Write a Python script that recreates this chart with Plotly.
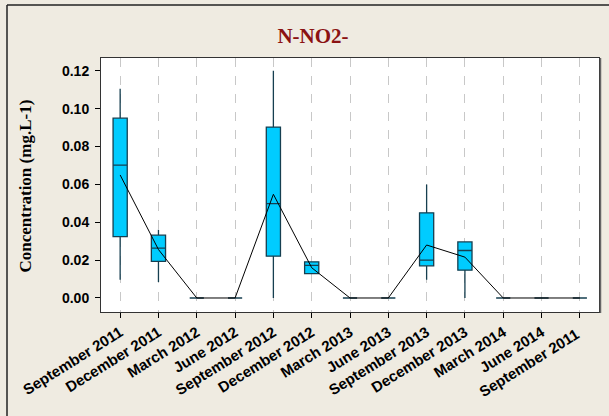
import plotly.graph_objects as go

categories = ["September 2011", "December 2011", "March 2012", "June 2012",
              "September 2012", "December 2012", "March 2013", "June 2013",
              "September 2013", "December 2013", "March 2014", "June 2014",
              "September 2011 "]
lower = [0.0097, 0.0085, 0, 0, 0.0, 0.0129, 0, 0, 0.0097, 0.0, 0, 0, 0]
q1 = [0.0324, 0.0193, 0, 0, 0.0221, 0.0129, 0, 0, 0.017, 0.0147, 0, 0, 0]
median = [0.0702, 0.0263, 0, 0, 0.0499, 0.0172, 0, 0, 0.020, 0.0251, 0, 0, 0]
q3 = [0.0950, 0.0332, 0, 0, 0.0903, 0.0191, 0, 0, 0.045, 0.0296, 0, 0, 0]
upper = [0.1105, 0.036, 0, 0, 0.12, 0.0191, 0, 0, 0.060, 0.0296, 0, 0, 0]
means = [0.065, 0.0256, 0, 0, 0.0548, 0.016, 0, 0, 0.028, 0.0216, 0, 0, 0]
yticks = [0.00, 0.02, 0.04, 0.06, 0.08, 0.10, 0.12]

W, H = 609, 416
L, R, T, B = 101, 10, 58, 104
pw, ph = W - L - R, H - T - B

fig = go.Figure()
fig.add_trace(go.Box(
    x=categories, q1=q1, median=median, q3=q3,
    lowerfence=lower, upperfence=upper,
    fillcolor="#00CCFF", line=dict(color="#163f50", width=1.3),
    whiskerwidth=0, width=0.37, boxpoints=False, showlegend=False,
    hoverinfo="skip"))
fig.add_trace(go.Scatter(
    x=categories, y=means, mode="lines",
    line=dict(color="black", width=1), showlegend=False, hoverinfo="skip"))

fig.update_layout(
    width=W, height=H,
    margin=dict(l=L, r=R, t=T, b=B, pad=0),
    paper_bgcolor="#EFEBE1", plot_bgcolor="white",
    title=dict(text="<b>N-NO2-</b>", x=313 / W, xref="container",
               y=1 - 36 / H, yref="container", xanchor="center", yanchor="middle",
               font=dict(family="Liberation Serif, Times New Roman, serif",
                         size=21, color="#8B1212")),
    xaxis=dict(type="category", range=[-0.5, 12.5], tickangle=-32,
               showgrid=True, gridcolor="#C8C8C8", griddash="dash", gridwidth=1,
               ticks="outside", ticklen=5, tickcolor="black",
               showline=True, linecolor="#333", linewidth=1, mirror=True,
               tickfont=dict(family="Liberation Sans, Arial, sans-serif", size=15,
                             color="black", weight="bold"),
               zeroline=False),
    yaxis=dict(range=[-0.0074, 0.1268], tickvals=yticks,
               ticktext=[f"{v:.2f}" for v in yticks],
               showgrid=False, zeroline=False,
               ticks="outside", ticklen=5, tickcolor="black", ticklabelstandoff=3,
               showline=True, linecolor="#333", linewidth=1, mirror=True,
               tickfont=dict(family="Liberation Sans, Arial, sans-serif", size=14,
                             color="black", weight="bold")),
    annotations=[dict(text="<b>Concentration (mg.L-1)</b>", textangle=-90,
                      xref="paper", yref="paper",
                      x=(25 - L) / pw, y=(H - B - 186.5) / ph,
                      xanchor="center", yanchor="middle", showarrow=False,
                      font=dict(family="Liberation Serif, Times New Roman, serif",
                                size=17, color="black"))],
    shapes=[dict(type="line", xref="paper", yref="paper",
                 x0=(7 - L) / pw, x1=(7 - L) / pw,
                 y0=(H - B - (H + 50)) / ph, y1=1 + (T - 5) / ph,
                 line=dict(color="#222", width=1.5), layer="below"),
            dict(type="line", xref="paper", yref="paper",
                 x0=(7 - L) / pw, x1=(W + 50 - L) / pw,
                 y0=1 + (T - 5) / ph, y1=1 + (T - 5) / ph,
                 line=dict(color="#222", width=1.5), layer="below"),
            dict(type="line", xref="paper", yref="paper",
                 x0=1 + 1.5 / pw, x1=1 + 1.5 / pw, y0=-1 / ph, y1=1,
                 line=dict(color="#666", width=1.5))],
)

fig.write_html("out.html")
